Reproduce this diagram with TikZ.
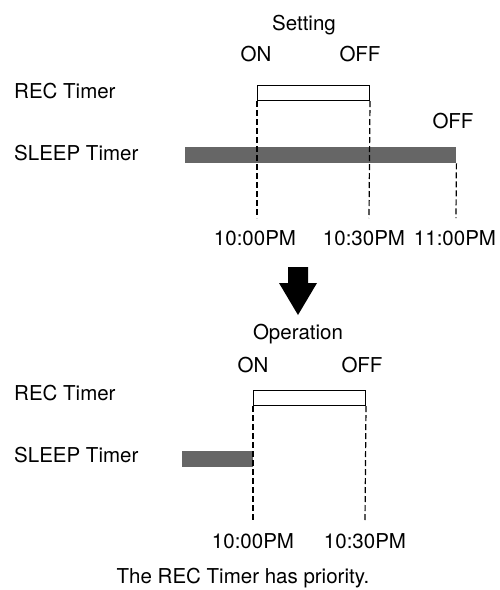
\documentclass[tikz,border=0pt]{standalone}
\usepackage{fontspec}
\setmainfont{TeX Gyre Heros}
\usetikzlibrary{positioning}

\begin{document}
\begin{tikzpicture}[x=1pt, y=-1pt,
  lbl/.style    = {font=\fontsize{20.5}{23}\selectfont, inner sep=0pt, anchor=base},
  side/.style   = {lbl, anchor=base west},
  recbox/.style = {draw, line width=1pt, minimum width=112pt, minimum height=15pt,
                   inner sep=0pt, anchor=north west},
  slpbar/.style = {fill=black!60, minimum height=16pt, inner sep=0pt, anchor=north west},
  dsh/.style    = {line width=1.2pt, dash pattern=on 6pt off 3pt}
]
\useasboundingbox (0,0) rectangle (499,590);

% --- Setting ---
\node[lbl] (setting) at (304,30) {Setting};
\node[lbl] (onA)  at (256,61) {ON};
\node[lbl] (offA) at (360,61) {OFF};
\node[side] (recA-lbl) at (14,98) {REC Timer};
\node[side] (slpA-lbl) at (14,160) {SLEEP Timer};
\node[lbl] (offB) at (453,128) {OFF};

\node[recbox] (recA) at (257,85) {};
\node[slpbar, minimum width=271pt] (slpA) at (185,147) {};

\node[lbl] (tA) at (255,245) {10:00PM};
\node[lbl] (tB) at (364,245) {10:30PM};
\node[lbl] (tC) at (455,245) {11:00PM};
\coordinate (endA) at (257,218);
\coordinate (endB) at (369,218);
\coordinate (endC) at (456,218);
\draw[dsh] (recA.south west) -- (endA);
\draw[dsh] (recA.south east) -- (endB);
\draw[dsh] (slpA.south east) -- (endC);

% --- fleche ---
\fill (288,267) -- (308,267) -- (308,283) -- (317,283) -- (298,315)
      -- (279,283) -- (288,283) -- cycle;

% --- Operation ---
\node[lbl] (operation) at (298,339) {Operation};
\node[lbl] (onC)  at (253,372) {ON};
\node[lbl] (offC) at (362,372) {OFF};
\node[side] (recC-lbl) at (14,400) {REC Timer};
\node[side] (slpC-lbl) at (14,462) {SLEEP Timer};

\node[recbox] (recC) at (253,390) {};
\node[slpbar, minimum width=71pt] (slpC) at (182,451) {};

\node[lbl] (tD) at (253,548) {10:00PM};
\node[lbl] (tE) at (365,548) {10:30PM};
\coordinate (endD) at (253,522);
\coordinate (endE) at (365,522);
\draw[dsh] (recC.south west) -- (endD);
\draw[dsh] (recC.south east) -- (endE);

\node[lbl] (note) at (243,583) {The REC Timer has priority.};
\end{tikzpicture}
\end{document}
